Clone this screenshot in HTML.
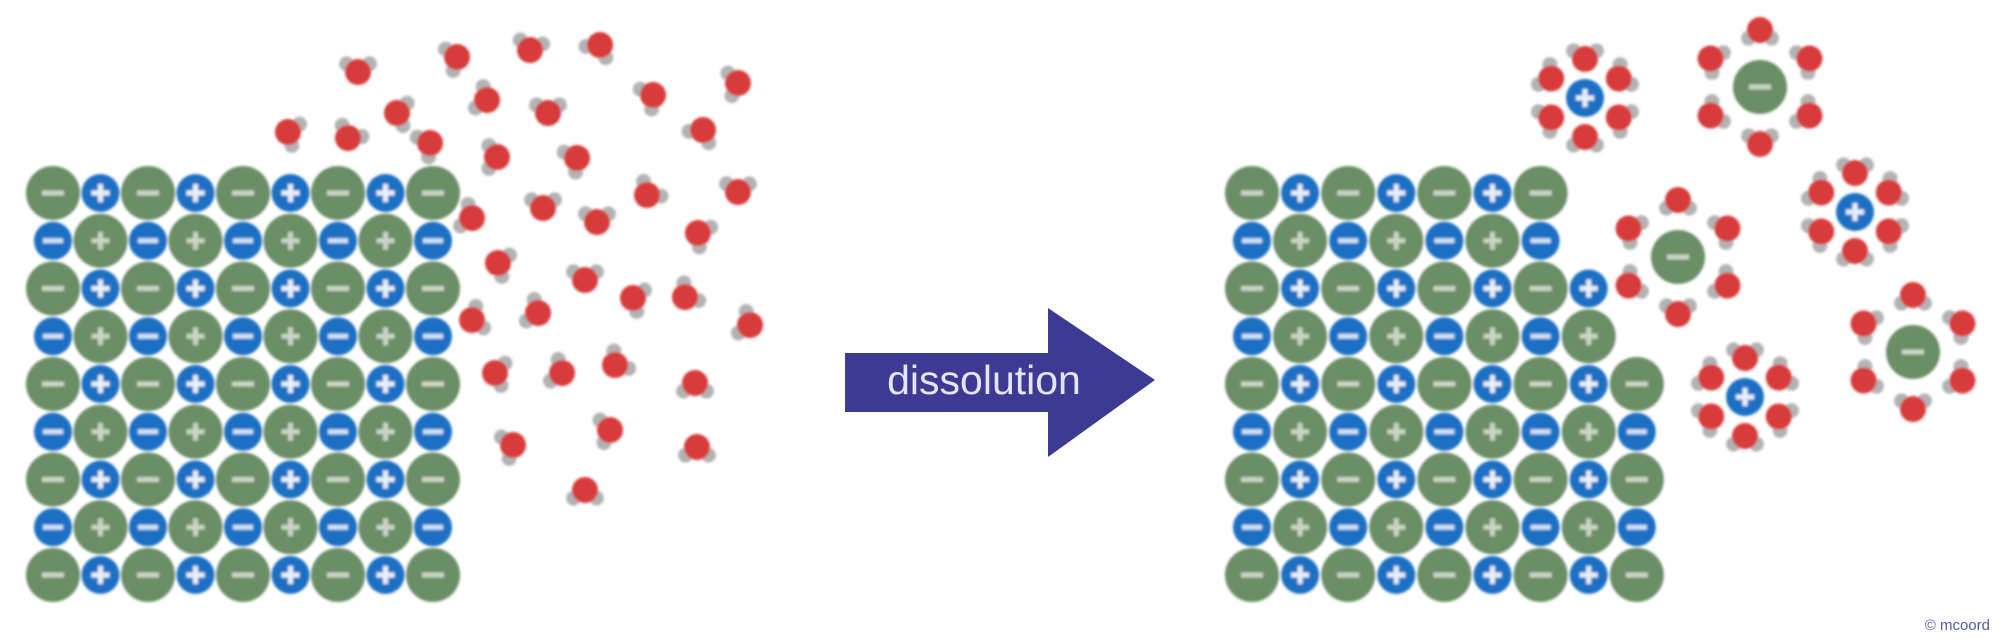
<!DOCTYPE html>
<html><head><meta charset="utf-8">
<style>
html,body{margin:0;padding:0;background:#fff;}
svg{display:block;}
</style></head>
<body>
<svg id="s" width="2000" height="641" viewBox="0 0 2000 641" xmlns="http://www.w3.org/2000/svg">
<defs>
<filter id="b" x="-10%" y="-10%" width="120%" height="120%"><feGaussianBlur stdDeviation="1.2"/></filter>
</defs>
<g id="g" filter="url(#b)"></g>
<polygon points="845,353 1048,353 1048,308 1155,380 1048,457 1048,412 845,412" fill="#3c3a93"/>
<text x="984" y="394" font-family="Liberation Sans, sans-serif" font-size="41" fill="#e4e4f2" text-anchor="middle">dissolution</text>
<text x="1990" y="630" font-family="Liberation Sans, sans-serif" font-size="15" fill="#5a5a9c" text-anchor="end">© mcoord</text>
</svg>
<script>
var g=document.getElementById('g');var out='';
var GREEN='#6b8e66',BLUE='#1b6fc4',RED='#d83a3a',GRAY='#b3b3b3';
function c(x,y,r,f){out+='<circle cx="'+x.toFixed(1)+'" cy="'+y.toFixed(1)+'" r="'+r+'" fill="'+f+'"/>';}
function minus(x,y,w,col){out+='<rect x="'+(x-w/2)+'" y="'+(y-2.5)+'" width="'+w+'" height="5" fill="'+col+'"/>';}
function plus(x,y,w,col){minus(x,y,w,col);out+='<rect x="'+(x-2.5)+'" y="'+(y-w/2)+'" width="5" height="'+w+'" fill="'+col+'"/>';}
function ion(x,y,isGreen,isMinus){
  if(isGreen){c(x,y,27,GREEN);if(isMinus)minus(x,y,22,'#c9d4c5');else plus(x,y,18,'#c9d4c5');}
  else{c(x,y,19,BLUE);if(isMinus)minus(x,y,20,'#cfe0f4');else plus(x,y,18,'#e6effa');}
}
function water(x,y,ang){
  var a=ang*Math.PI/180;
  [a-0.95,a+0.95].forEach(function(t){c(x+14*Math.cos(t),y+14*Math.sin(t),7.5,GRAY);});
  c(x,y,13,RED);
}
function lattice(x0,dx,rowsCols){
  for(var r=0;r<9;r++){var y=193+r*47.75;
    for(var k=0;k<rowsCols[r];k++){var x=x0+k*dx;var gr=((r+k)%2==0);
      ion(x,y,gr,(r%2==0)?gr:!gr);}}
}
lattice(53,47.5,[9,9,9,9,9,9,9,9,9]);
lattice(1252,48.1,[7,7,8,8,9,9,9,9,9]);
var ws=[[358,72,-90],[457,57,160],[530,50,-80],[600,45,120],[487,100,200],[548,113,-90],[653,95,150],[738,83,170],[397,113,10],[288,132,20],[348,138,-60],[430,143,150],[497,157,180],[577,158,150],[703,130,120],[647,195,-50],[738,192,-90],[543,208,-90],[597,222,-90],[472,218,200],[698,233,30],[498,263,20],[585,280,-90],[633,298,20],[685,297,-40],[750,325,200],[472,320,-20],[538,313,200],[495,373,10],[562,373,200],[615,365,-40],[695,383,90],[513,445,160],[610,430,170],[697,447,90],[585,490,90]];
ws.forEach(function(w){water(w[0],w[1],w[2]);});
function hydr(x,y,cation){
  var R=cation?39:57;
  for(var i=0;i<6;i++){var t=(-90+60*i)*Math.PI/180;
    var wx=x+R*Math.cos(t),wy=y+R*Math.sin(t);
    var d=t*180/Math.PI+(cation?0:180);
    water(wx,wy,d);}
  if(cation)ion(x,y,false,false);else ion(x,y,true,true);
}
hydr(1585,98,true);hydr(1760,87,false);hydr(1678,257,false);hydr(1855,212,true);hydr(1913,352,false);hydr(1745,397,true);
g.innerHTML=out;
</script>
</body></html>
